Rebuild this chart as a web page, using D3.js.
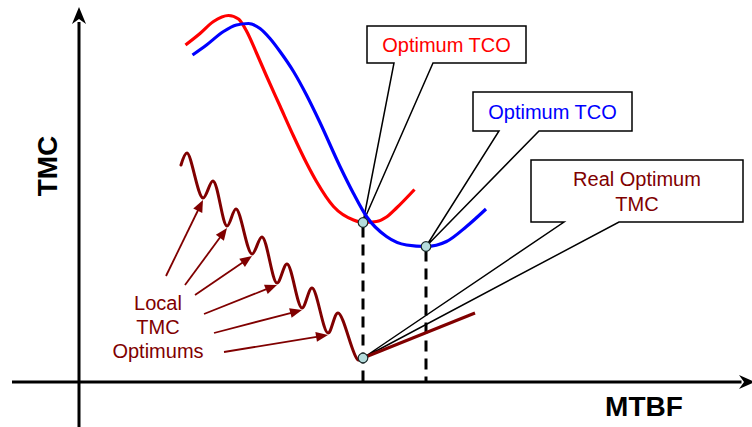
<!DOCTYPE html>
<html><head><meta charset="utf-8">
<script src="https://cdn.jsdelivr.net/npm/d3@7"></script>
<style>html,body{margin:0;padding:0;background:#fff;overflow:hidden}</style>
</head><body><svg id="c" width="752" height="427"></svg>
<script>
// ---- data (abstract MTBF / cost units) ----
const redTCO = [[21.3,67.4],[24.2,69.7],[26.9,72.1],[29.9,73.3],[31.9,72.6],[33.5,70.2],[35.5,65.8],[37.5,61.2],[40.2,55.2],[42.9,49.2],[45.5,43.8],[47.5,40.1],[50.9,35.1],[54.9,32.4],[56.9,31.9],[59.5,32.1],[61.5,33.0],[63.5,34.8],[67.1,38.5]];
const blueTCO = [[22.7,65.4],[25.5,67.4],[28.9,70.1],[31.5,71.4],[33.9,71.7],[36.2,70.7],[38.2,68.7],[40.2,66.1],[42.9,62.1],[45.5,57.4],[48.1,52.1],[52.2,43.1],[54.9,37.7],[57.5,33.1],[61.5,29.1],[65.5,27.4],[69.4,27.1],[73.5,28.1],[77.5,31.1],[81.4,34.6]];
const tmcWavy = [[20.4,43.4],[21.6,45.8],[24.8,36.8],[26.8,40.2],[29.6,31.2],[31.4,34.6],[34.6,25.6],[36.6,29.0],[39.6,19.8],[41.6,23.6],[44.6,14.8],[46.6,18.8],[49.8,9.8],[51.8,13.8],[55.8,4.4],[56.8,4.6]];
const tmcReal = [[56.8,4.8],[79.2,13.8]];
const optimumRed = [56.8,31.9];
const optimumBlue = [69.4,27.1];
const optimumTMC = [56.8,4.8];
const localValleyIdx = [2,4,6,8,10,12];
const arrowStarts = [[17.4,21.2],[21.2,19.4],[23.2,17.4],[25.0,13.6],[27.0,9.8],[29.0,6.0]];
const localLabel = ["Local","TMC","Optimums"];
const calloutTexts = [["Optimum TCO"],["Optimum TCO"],["Real Optimum","TMC"]];
const calloutColors = ["#ff0000","#0000ff","#800000"];
const calloutBoxes = [[57.6,89.4,71.2,63.8],[78.8,110.6,58.0,50.2],[90.4,132.8,44.4,32.0]];
const calloutBases = [[63.0,70.8],[84.0,92.0],[97.0,108.0]];
const calloutTargets = [optimumRed, optimumBlue, optimumTMC];
const xLabel = "MTBF", yLabel = "TMC";

// ---- scales ----
const x = d3.scaleLinear().domain([0,134]).range([79,749]);
const y = d3.scaleLinear().domain([0,75]).range([382,7]);
const svg = d3.select("#c");
const FONT = "'Liberation Sans', Arial, Helvetica, sans-serif";
const smooth = d3.line().x(d=>x(d[0])).y(d=>y(d[1])).curve(d3.curveMonotoneX);
const wavy = d3.line().x(d=>x(d[0])).y(d=>y(d[1])).curve(d3.curveCatmullRom.alpha(0.5));

// ---- callouts (drawn first) ----
calloutBoxes.forEach((b,i)=>{
  const [x0,x1,yt,yb] = b.map((v,j)=> j<2 ? x(v) : y(v));
  const [b1,b2] = calloutBases[i].map(v=>x(v));
  const t = calloutTargets[i];
  const p = d3.path();
  p.moveTo(x0,yt); p.lineTo(x1,yt); p.lineTo(x1,yb); p.lineTo(b2,yb);
  p.lineTo(x(t[0]),y(t[1])); p.lineTo(b1,yb); p.lineTo(x0,yb); p.closePath();
  svg.append("path").attr("d",p.toString()).attr("fill","#fff").attr("stroke","#000").attr("stroke-width",1.5).attr("stroke-linejoin","miter");
  const lines = calloutTexts[i];
  const cx = (x0+x1)/2, cy = (yt+yb)/2;
  const lh = 25.5;
  lines.forEach((s,k)=>{
    svg.append("text").attr("x",cx).attr("y",cy + 7.5 + (k-(lines.length-1)/2)*lh)
      .attr("text-anchor","middle").attr("font-family",FONT).attr("font-size",20)
      .attr("fill",calloutColors[i]).text(s);
  });
});

// ---- axes ----
svg.append("line").attr("x1",x(0)).attr("x2",x(0)).attr("y1",427).attr("y2",y(72)).attr("stroke","#000").attr("stroke-width",3);
svg.append("line").attr("x1",12).attr("x2",x(132.5)).attr("y1",y(0)).attr("y2",y(0)).attr("stroke","#000").attr("stroke-width",3);
const yt = y(75);
svg.append("path").attr("d",`M${x(0)},${yt} L${x(0)-7},${yt+17} L${x(0)},${yt+12} L${x(0)+7},${yt+17} Z`).attr("fill","#000");
const xt = 755;
svg.append("path").attr("d",`M${xt},${y(0)} L${xt-16},${y(0)-7} L${xt-11},${y(0)} L${xt-16},${y(0)+7} Z`).attr("fill","#000");

svg.append("text").attr("transform",`translate(57,166) rotate(-90)`).attr("text-anchor","middle")
  .attr("font-family",FONT).attr("font-weight","bold").attr("font-size",28).attr("fill","#000").text(yLabel);
svg.append("text").attr("x",644).attr("y",416).attr("text-anchor","middle")
  .attr("font-family",FONT).attr("font-weight","bold").attr("font-size",28).attr("fill","#000").text(xLabel);

// ---- dashed drop lines ----
[optimumRed, optimumBlue].forEach(o=>{
  svg.append("line").attr("x1",x(o[0])).attr("x2",x(o[0])).attr("y1",y(o[1])+4).attr("y2",y(0))
    .attr("stroke","#000").attr("stroke-width",3).attr("stroke-dasharray","11,7");
});

// ---- curves ----
svg.append("path").attr("d",smooth(redTCO)).attr("fill","none").attr("stroke","#ff0000").attr("stroke-width",3.2);
svg.append("path").attr("d",smooth(blueTCO)).attr("fill","none").attr("stroke","#0000ff").attr("stroke-width",3.2);
svg.append("path").attr("d",wavy(tmcWavy)).attr("fill","none").attr("stroke","#800000").attr("stroke-width",3).attr("stroke-linecap","round");
svg.append("path").attr("d",d3.line().x(d=>x(d[0])).y(d=>y(d[1]))(tmcReal)).attr("fill","none").attr("stroke","#800000").attr("stroke-width",3);

// ---- local optimum arrows ----
localValleyIdx.forEach((vi,i)=>{
  const s = arrowStarts[i], v = tmcWavy[vi];
  const sx = x(s[0]), sy = y(s[1]);
  const ex = x(v[0]), ey = y(v[1]) + 2;
  const dx = ex-sx, dy = ey-sy, L = Math.hypot(dx,dy), ux = dx/L, uy = dy/L;
  const hl = 12, hw = 5;
  const bx = ex-ux*hl, by = ey-uy*hl;
  svg.append("line").attr("x1",sx).attr("y1",sy).attr("x2",bx+ux*2).attr("y2",by+uy*2)
    .attr("stroke","#800000").attr("stroke-width",1.8);
  svg.append("path").attr("d",`M${ex},${ey} L${bx-uy*hw},${by+ux*hw} L${bx+uy*hw},${by-ux*hw} Z`).attr("fill","#800000");
});
localLabel.forEach((s,k)=>{
  svg.append("text").attr("x",x(15.8)).attr("y",y(14.4)+k*24).attr("text-anchor","middle")
    .attr("font-family",FONT).attr("font-size",20).attr("fill","#800000").text(s);
});

// ---- optimum markers ----
[optimumRed, optimumBlue, optimumTMC].forEach(o=>{
  svg.append("circle").attr("cx",x(o[0])).attr("cy",y(o[1])).attr("r",4.8)
    .attr("fill","#b5dcdc").attr("stroke","#1a2a2a").attr("stroke-width",1.2);
});
</script></body></html>
